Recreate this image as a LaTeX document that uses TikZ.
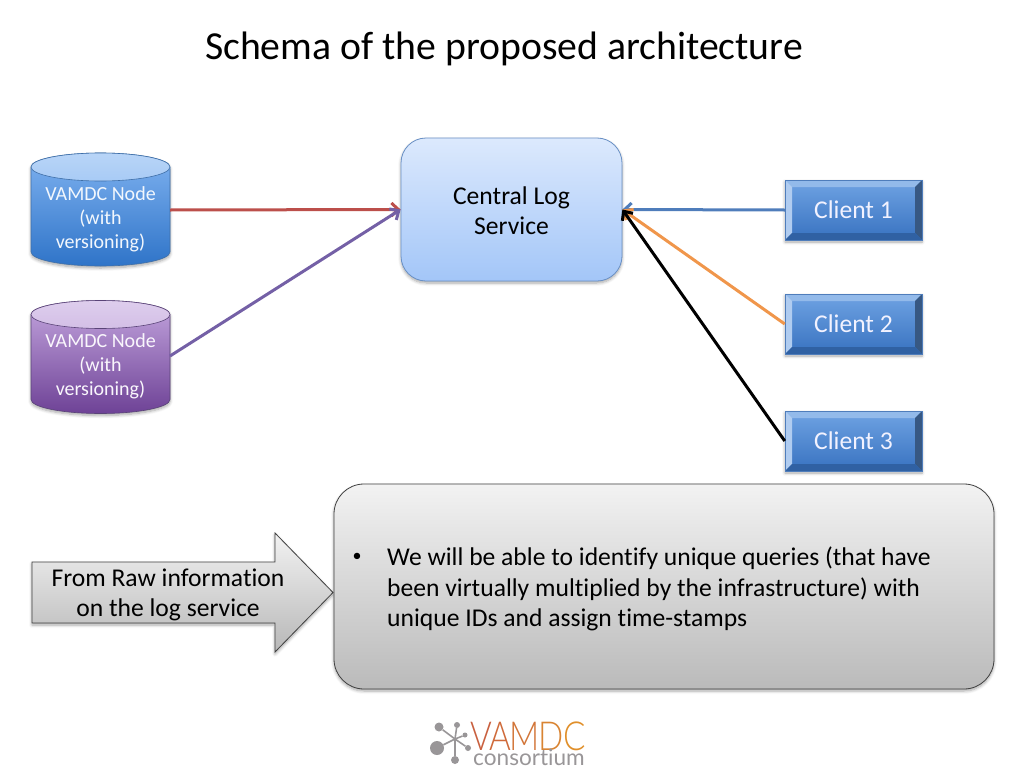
\documentclass[tikz,border=0pt]{standalone}
\usepackage{fontspec}
\setmainfont{Carlito}[Ligatures=NoCommon]
\newfontfamily\logofont{Lato Light}
\newfontfamily\subfont{Lato}[Ligatures=NoCommon]
\usetikzlibrary{shadows.blur,arrows.meta}
\definecolor{linered}{HTML}{BC4F4B}
\definecolor{linepurple}{HTML}{7460A6}
\definecolor{lineblue}{HTML}{4F7DBB}
\definecolor{lineorange}{HTML}{F0964B}
\definecolor{logogray}{HTML}{999698}
\definecolor{blueA}{HTML}{7FB2F0}
\definecolor{blueB}{HTML}{2F74C8}
\definecolor{blueC}{HTML}{A8CBF6}
\definecolor{blueD}{HTML}{3F6FA8}
\definecolor{purpleA}{HTML}{C3A5DE}
\definecolor{purpleB}{HTML}{6E4296}
\definecolor{purpleC}{HTML}{D3BFE6}
\definecolor{purpleD}{HTML}{5A4478}
\definecolor{centralA}{HTML}{DCE9FD}
\definecolor{centralB}{HTML}{A3C6F8}
\definecolor{clientA}{HTML}{6FA3E3}
\definecolor{clientB}{HTML}{3872C0}
\tikzset{
    softshadow/.style={blur shadow={shadow xshift=0pt,shadow yshift=-2pt,shadow blur steps=6,shadow blur radius=3pt,shadow opacity=35}},
    pics/dbcan/.style n args={4}{code={
        \draw[draw=#4,line width=0.6pt,top color=#1,bottom color=#2,softshadow] (-69.5,-42.5)--(-69.5,42.5) arc [start angle=180,end angle=0,x radius=69.5,y radius=14]--(69.5,-42.5) arc [start angle=0,end angle=-180,x radius=69.5,y radius=14]--cycle;
        \draw[draw=#4,line width=0.6pt,top color=white!45!#1,bottom color=#3] (0,-42.5) ellipse [x radius=69.5,y radius=14];
    }},
    dblabel/.style={align=center,inner sep=0pt,text=white!90!#1,font=\fontsize{20}{24}\selectfont},
    clientbox/.style={minimum width=137,minimum height=60,inner sep=0pt,draw=lineblue,line width=0.5pt,
        top color=clientA,bottom color=clientB,softshadow,text=white!95!blue,font=\fontsize{25.6}{30}\selectfont,
        path picture={
            \fill[color=clientA!75!white] (path picture bounding box.north west)--(path picture bounding box.north east)--++(-7,7)--++(-123,0)--cycle;
            \fill[color=clientA!55!white] (path picture bounding box.north west)--(path picture bounding box.south west)--++(7,-7)--++(0,-46)--cycle;
            \fill[color=lineblue!70!black] (path picture bounding box.north east)--(path picture bounding box.south east)--++(-7,-7)--++(0,-46)--cycle;
            \fill[color=clientB!85!black] (path picture bounding box.south west)--(path picture bounding box.south east)--++(-7,-7)--++(-123,0)--cycle;
        }},
    logspoke/.style={draw=logogray,line width=1.6pt},
    logodot/.style={circle,fill=logogray,inner sep=0pt,minimum size=#1},
    feed/.style={line width=3pt,->,>={Straight Barb[length=7pt,width=13pt]}}
}
\begin{document}
\begin{tikzpicture}[x=1pt,y=-1pt]
    \useasboundingbox (0,0) rectangle (1024,768);
    \node (title) at (504,49) {\fontsize{39.7}{44}\selectfont Schema of the proposed architecture};

    \pic at (100.5,209.5) {dbcan={blueA}{blueB}{blueC}{blueD}};
    \pic at (100.5,357) {dbcan={purpleA}{purpleB}{purpleC}{purpleD}};
    \node[dblabel=blueA] (nodeA) at (100.5,219) {VAMDC Node\\(with\\versioning)};
    \node[dblabel=purpleA] (nodeB) at (100.5,366) {VAMDC Node\\(with\\versioning)};
    \coordinate (nodeAout) at (170,210);
    \coordinate (nodeBout) at (170,356);

    \node[rectangle,rounded corners=25pt,minimum width=221,minimum height=143,inner sep=0pt,draw=lineblue!85!white,line width=0.8pt,
        top color=centralA,bottom color=centralB,softshadow] (central) at (511.5,209.5) {};
    \node[align=center,font=\fontsize{25.6}{30.5}\selectfont] (centrallabel) at (511.5,210.5) {Central Log\\Service};

    \node[clientbox] (clientA) at (853.5,210) {Client 1};
    \node[clientbox] (clientB) at (853.5,324) {Client 2};
    \node[clientbox] (clientC) at (853.5,441) {Client 3};

    \draw[feed,linered] (nodeAout)--(central.west);
    \draw[feed,linepurple] (nodeBout)--(central.west);
    \draw[feed,lineblue] (clientA.west)--(central.east);
    \draw[feed,lineorange] (clientB.west)--(central.east);
    \draw[feed,black] (clientC.west)--(central.east);

    \draw[draw=black!75,line width=0.8pt,top color=black!5,bottom color=black!28,softshadow] (32,562)--(275,562)--(275,533)--(333,592.5)--(275,652)--(275,623)--(32,623)--cycle;
    \node[align=center,font=\fontsize{25.6}{30.5}\selectfont] (rawinfo) at (168,595) {From Raw information\\on the log service};

    \node[rectangle,rounded corners=30pt,minimum width=660,minimum height=205,inner sep=0pt,draw=black!75,line width=0.8pt,
        top color=black!5,bottom color=black!27,softshadow] (summary) at (664,586.5) {};
    \node[anchor=west,font=\fontsize{18}{20}\selectfont] (bullet) at (349,557) {•};
    \node[anchor=west,align=left,inner sep=0pt,font=\fontsize{25.6}{30.5}\selectfont] (summarytext) at (387,589) {We will be able to identify unique queries (that have\\been virtually multiplied by the infrastructure) with\\unique IDs and assign time-stamps};

    % logo
    \coordinate (hub) at (455,739);
    \node[logodot=14pt] (dotA) at (437,748) {};
    \node[logodot=9pt] (dotB) at (439,727) {};
    \node[logodot=6pt] (dotC) at (457,725) {};
    \node[logodot=5pt] (dotD) at (465,735) {};
    \node[logodot=6pt] (dotE) at (468,748) {};
    \node[logodot=8pt] (dotF) at (455,760) {};
    \draw[logspoke] (hub)--(dotA);
    \draw[logspoke] (hub)--(dotB);
    \draw[logspoke] (hub)--(dotC);
    \draw[logspoke] (hub)--(dotD);
    \draw[logspoke] (hub)--(dotE);
    \draw[logspoke] (hub)--(dotF);
    \node[anchor=base west,inner sep=0pt,text depth=0pt,xscale=0.83,font=\logofont\fontsize{40}{40}\selectfont] (logoname) at (470,750)
        {\textcolor[HTML]{C9603F}{V}\kern-3pt\textcolor[HTML]{CF6A3A}{A}\kern-2pt\textcolor[HTML]{D27538}{M}\kern-1pt\textcolor[HTML]{D98432}{D}\kern-1pt\textcolor[HTML]{E08F2A}{C}};
    \node[anchor=base west,inner sep=0pt,text=logogray,text height=10pt,text depth=0pt,font=\subfont\fontsize{22.6}{22.6}\selectfont] (logosub) at (473,765) {consortium};
\end{tikzpicture}
\end{document}
